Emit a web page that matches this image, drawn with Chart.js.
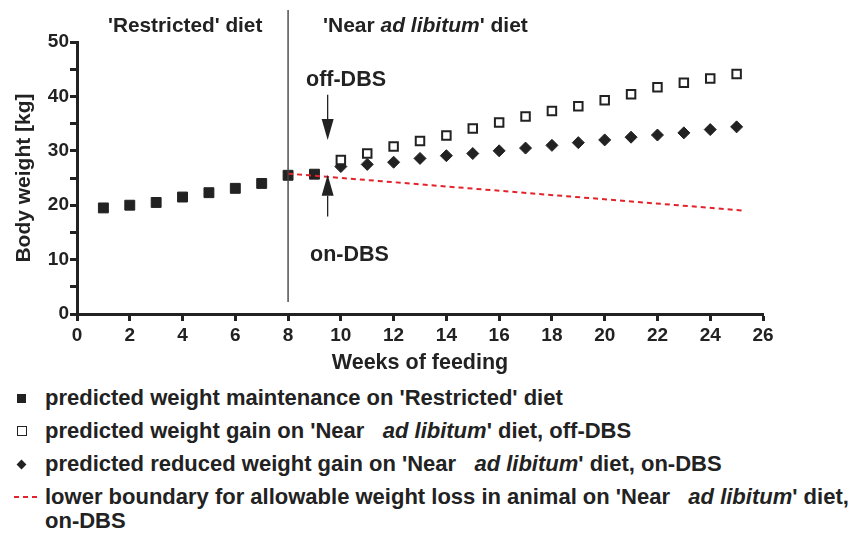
<!DOCTYPE html>
<html lang="en">
<head>
    <meta charset="UTF-8">
    <title>Body weight vs weeks of feeding</title>
    <script src="https://cdn.jsdelivr.net/npm/chart.js"></script>
    <style>
        body {
            margin: 0;
            background: #fff;
            font-family: "Liberation Sans", Arial, sans-serif;
            color: #222;
        }
        .wrap {
            position: relative;
            width: 857px;
            height: 534px;
        }
        #chart {
            position: absolute;
            left: 0;
            top: 0;
        }
        .legend {
            position: absolute;
            left: 0;
            top: 386px;
            font-weight: bold;
            font-size: 22px;
            white-space: nowrap;
        }
        .legend .row {
            position: relative;
            padding-left: 45px;
            height: 33px;
            line-height: 24px;
        }
        .legend .mk {
            position: absolute;
            box-sizing: border-box;
        }
        .mk.fill { left: 17px; top: 8px; width: 9px; height: 9px; background: #222; }
        .mk.open { left: 17px; top: 7px; width: 10px; height: 10px; border: 1.6px solid #222; }
        .mk.dia { left: 18px; top: 9px; width: 7px; height: 7px; background: #222; transform: rotate(45deg); }
        .mk.dash {
            left: 14px; top: 11px; width: 23px; height: 2px;
            background: repeating-linear-gradient(90deg, #e3232b 0 5px, transparent 5px 9px);
        }
        i { font-style: italic; }
    </style>
</head>
<body>
<div class="wrap">
    <canvas id="chart" width="857" height="380"></canvas>
    <div class="legend">
        <div class="row"><span class="mk fill"></span>predicted weight maintenance on 'Restricted' diet</div>
        <div class="row"><span class="mk open"></span>predicted weight gain on 'Near &nbsp;&nbsp;<i>ad libitum</i>' diet, off-DBS</div>
        <div class="row"><span class="mk dia"></span>predicted reduced weight gain on 'Near &nbsp;&nbsp;<i>ad libitum</i>' diet, on-DBS</div>
        <div class="row"><span class="mk dash"></span>lower boundary for allowable weight loss in animal on 'Near &nbsp;&nbsp;<i>ad libitum</i>' diet,<br>on-DBS</div>
    </div>
</div>
<script>
// data
const weeksRestricted = [1, 2, 3, 4, 5, 6, 7, 8, 9];
const weightRestricted = [19.5, 20.0, 20.5, 21.5, 22.3, 23.1, 24.0, 25.5, 25.7];

const weeksNear = [10, 11, 12, 13, 14, 15, 16, 17, 18, 19, 20, 21, 22, 23, 24, 25];
const weightOffDBS = [28.3, 29.5, 30.8, 31.8, 32.8, 34.1, 35.2, 36.3, 37.3, 38.2, 39.3, 40.4, 41.7, 42.5, 43.3, 44.1];
const weightOnDBS = [27.1, 27.5, 27.9, 28.6, 29.1, 29.5, 30.0, 30.5, 31.0, 31.5, 32.0, 32.5, 32.9, 33.3, 33.9, 34.4];

const boundaryWeeks = [8, 25.3];
const boundaryWeight = [25.8, 19.0];

const dietChangeWeek = 8;
const dietLineWeight = [2.2, 55.9];

// arrows: [week, from kg, to kg]
const offArrow = [9.5, 40.3, 32.0];
const onArrow = [9.5, 17.9, 25.6];

const xMin = 0, xMax = 26, xStep = 2;
const yMin = 0, yMax = 50, yStep = 5, yLabelStep = 10;

const pts = (xs, ys) => xs.map((x, i) => ({ x: x, y: ys[i] }));
const ink = '#222';
const FONT = '"Liberation Sans", Arial, sans-serif';

// draw text made of [text, italic] pieces
function drawParts(ctx, parts, x, y, size) {
    let cx = x;
    ctx.textAlign = 'left';
    ctx.textBaseline = 'middle';
    parts.forEach(p => {
        ctx.font = (p[1] ? 'italic ' : '') + 'bold ' + size + 'px ' + FONT;
        ctx.fillText(p[0], cx, y);
        cx += ctx.measureText(p[0]).width;
    });
}

function drawArrow(ctx, xs, ys, a) {
    const x = xs.getPixelForValue(a[0]);
    const y1 = ys.getPixelForValue(a[1]);
    const y2 = ys.getPixelForValue(a[2]);
    const dir = y2 > y1 ? 1 : -1;
    const headLen = 21, headHalf = 6;
    ctx.strokeStyle = ink;
    ctx.lineWidth = 1.3;
    ctx.beginPath();
    ctx.moveTo(x, y1);
    ctx.lineTo(x, y2 - dir * headLen);
    ctx.stroke();
    ctx.fillStyle = ink;
    ctx.beginPath();
    ctx.moveTo(x, y2);
    ctx.lineTo(x - headHalf, y2 - dir * headLen);
    ctx.lineTo(x + headHalf, y2 - dir * headLen);
    ctx.closePath();
    ctx.fill();
}

const notes = {
    id: 'notes',
    afterDatasetsDraw(chart) {
        const ctx = chart.ctx;
        const xs = chart.scales.x, ys = chart.scales.y;
        ctx.save();
        ctx.fillStyle = ink;
        drawParts(ctx, [["'Restricted' diet", false]], 108, 26, 20.8);
        drawParts(ctx, [["'Near ", false], ["ad libitum", true], ["' diet", false]], 323, 26, 21);
        drawParts(ctx, [["off-DBS", false]], 306, 80, 21.5);
        drawParts(ctx, [["on-DBS", false]], 310, 255, 21.5);
        drawArrow(ctx, xs, ys, offArrow);
        drawArrow(ctx, xs, ys, onArrow);
        ctx.restore();
    }
};

const marker = { borderColor: ink, backgroundColor: ink, showLine: false };

new Chart(document.getElementById('chart'), {
    type: 'scatter',
    data: {
        datasets: [
            {
                label: 'diet change',
                type: 'line',
                data: pts([dietChangeWeek, dietChangeWeek], dietLineWeight),
                borderColor: '#444',
                borderWidth: 1.4,
                pointRadius: 0,
                clip: false
            },
            {
                label: 'lower boundary',
                type: 'line',
                data: pts(boundaryWeeks, boundaryWeight),
                borderColor: '#e3232b',
                borderWidth: 2,
                borderDash: [5, 4],
                pointRadius: 0
            },
            Object.assign({
                label: 'restricted',
                data: pts(weeksRestricted, weightRestricted),
                pointStyle: 'rect',
                pointRadius: 7
            }, marker),
            Object.assign({
                label: 'off-DBS',
                data: pts(weeksNear, weightOffDBS),
                pointStyle: 'rect',
                pointRadius: 6,
                borderWidth: 2
            }, marker, { backgroundColor: '#fff' }),
            Object.assign({
                label: 'on-DBS',
                data: pts(weeksNear, weightOnDBS),
                pointStyle: 'rectRot',
                pointRadius: 6
            }, marker)
        ]
    },
    options: {
        responsive: false,
        animation: false,
        layout: { padding: { top: 42, right: 94, left: 0, bottom: 0 } },
        plugins: {
            legend: { display: false },
            tooltip: { enabled: false }
        },
        scales: {
            x: {
                type: 'linear',
                min: xMin,
                max: xMax,
                afterFit(scale) { scale.height = 66; },
                border: { color: ink, width: 3 },
                grid: { drawOnChartArea: false, tickLength: 7, tickWidth: 3, tickColor: ink },
                ticks: {
                    stepSize: xStep,
                    autoSkip: false,
                    maxRotation: 0,
                    padding: 3,
                    color: ink,
                    font: { family: FONT, size: 19, weight: 'bold' }
                },
                title: {
                    display: true,
                    text: 'Weeks of feeding',
                    color: ink,
                    padding: { top: 0, bottom: 4 },
                    font: { family: FONT, size: 21.5, weight: 'bold' }
                }
            },
            y: {
                min: yMin,
                max: yMax,
                afterFit(scale) { scale.width = 77; },
                border: { color: ink, width: 3 },
                grid: { drawOnChartArea: false, tickLength: 7, tickWidth: 3, tickColor: ink },
                ticks: {
                    stepSize: yStep,
                    autoSkip: false,
                    padding: 1,
                    color: ink,
                    font: { family: FONT, size: 19, weight: 'bold' },
                    callback: v => (v % yLabelStep === 0 ? v : '')
                },
                title: {
                    display: true,
                    text: 'Body weight [kg]',
                    color: ink,
                    padding: { top: 12, bottom: 0 },
                    font: { family: FONT, size: 21, weight: 'bold' }
                }
            }
        }
    },
    plugins: [notes]
});
</script>
</body>
</html>
